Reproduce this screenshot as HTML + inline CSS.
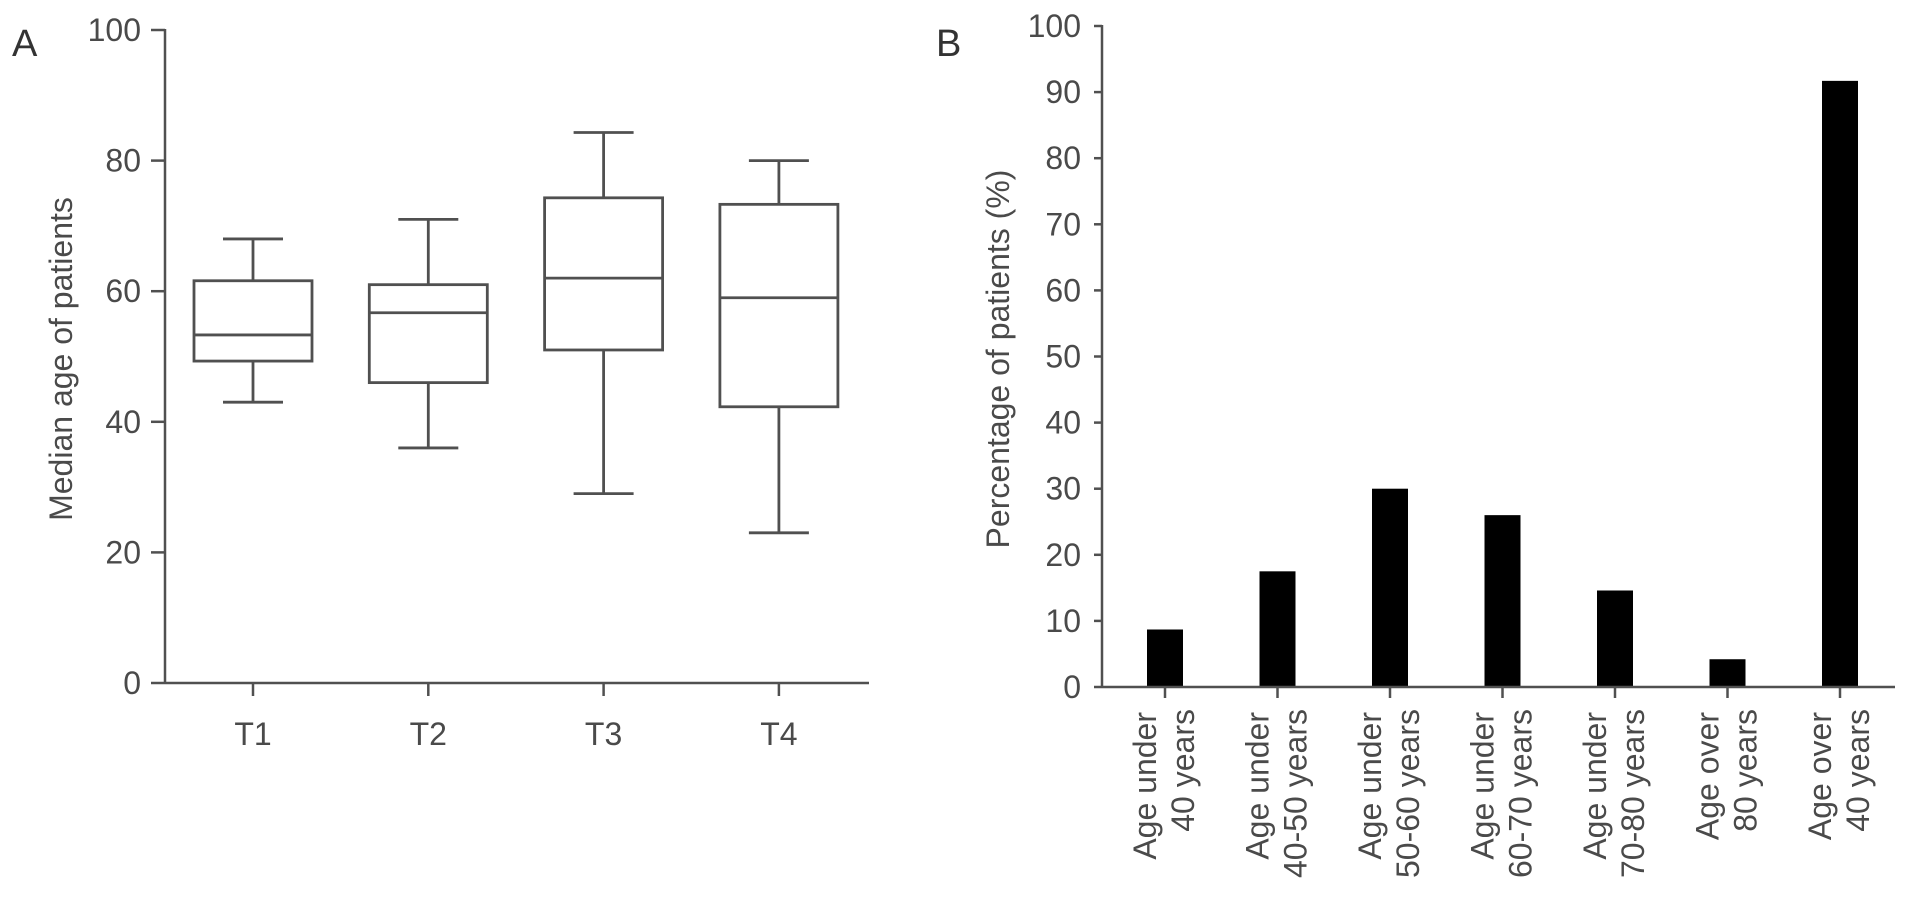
<!DOCTYPE html>
<html><head><meta charset="utf-8"><style>
html,body{margin:0;padding:0;background:#fff;}
svg{display:block;font-family:"Liberation Sans",sans-serif;}
</style></head><body>
<svg id="chart" width="1913" height="909" xmlns="http://www.w3.org/2000/svg"></svg>
<script>
// Panel A data (box plots)
const boxCats = ["T1","T2","T3","T4"];
const boxMin = [43,36,29,23];
const boxQ1 = [49.3,46,51,42.3];
const boxMed = [53.3,56.7,62,59];
const boxQ3 = [61.6,61,74.3,73.3];
const boxMax = [68,71,84.3,80];
const aTicks = [0,20,40,60,80,100];
// Panel B data (bars)
const barLine1 = ["Age under","Age under","Age under","Age under","Age under","Age over","Age over"];
const barLine2 = ["40 years","40-50 years","50-60 years","60-70 years","70-80 years","80 years","40 years"];
const barVals = [8.7,17.5,30,26,14.6,4.2,91.7];
const bTicks = [0,10,20,30,40,50,60,70,80,90,100];

const svg=document.getElementById('chart');
const NS="http://www.w3.org/2000/svg";
function mk(tag,attrs,parent){const e=document.createElementNS(NS,tag);for(const k in attrs)e.setAttribute(k,attrs[k]);(parent||svg).appendChild(e);return e;}
const AX="#505050", TX="#4a4a4a", FS=32;

// ---------- Panel A ----------
const aX0=165,aX1=869,aY0=683,aY1=30;
const ay=v=>aY0-(v/100)*(aY0-aY1);
const ax=i=>253+i*175.3;
let t=mk('text',{x:12,y:56,'font-size':38,fill:'#333'});t.textContent='A';


let l=mk('line',{x1:aX0,y1:aY1-1,x2:aX0,y2:aY0,stroke:AX,'stroke-width':2.5});


l=mk('line',{x1:aX0,y1:aY0,x2:aX1,y2:aY0,stroke:AX,'stroke-width':2.5});


aTicks.forEach(v=>{
  mk('line',{x1:151,y1:ay(v),x2:aX0,y2:ay(v),stroke:AX,'stroke-width':2.5});
  const e=mk('text',{x:141,y:ay(v)+11,'font-size':FS,fill:TX,'text-anchor':'end'});e.textContent=v;
  
  
});
t=mk('text',{x:0,y:0,'font-size':FS,fill:TX,'text-anchor':'middle',transform:'translate(72,359) rotate(-90)'});t.textContent='Median age of patients';


boxCats.forEach((c,i)=>{
  const cx=ax(i),hw=59,cw=30;
  const g=mk('g',{stroke:AX,'stroke-width':2.8,fill:'none'});
  
  
  mk('line',{x1:cx,y1:ay(boxMax[i]),x2:cx,y2:ay(boxQ3[i])},g);
  mk('line',{x1:cx,y1:ay(boxQ1[i]),x2:cx,y2:ay(boxMin[i])},g);
  mk('line',{x1:cx-cw,y1:ay(boxMax[i]),x2:cx+cw,y2:ay(boxMax[i])},g);
  mk('line',{x1:cx-cw,y1:ay(boxMin[i]),x2:cx+cw,y2:ay(boxMin[i])},g);
  mk('rect',{x:cx-hw,y:ay(boxQ3[i]),width:2*hw,height:ay(boxQ1[i])-ay(boxQ3[i])},g);
  mk('line',{x1:cx-hw,y1:ay(boxMed[i]),x2:cx+hw,y2:ay(boxMed[i])},g);
  mk('line',{x1:cx,y1:aY0,x2:cx,y2:aY0+13,stroke:AX,'stroke-width':2.5});
  const e=mk('text',{x:cx,y:745,'font-size':FS,fill:TX,'text-anchor':'middle'});e.textContent=c;
  
  
});

// ---------- Panel B ----------
const bX0=1102,bX1=1895,bY0=687,bY1=26;
const by=v=>bY0-(v/100)*(bY0-bY1);
const bx=i=>1165+i*112.5;
t=mk('text',{x:936,y:56,'font-size':38,fill:'#333'});t.textContent='B';


barVals.forEach((v,i)=>{
  const r=mk('rect',{x:bx(i)-18,y:by(v),width:36,height:bY0-by(v),fill:'#000'});
  
  
});
l=mk('line',{x1:bX0,y1:bY1-1,x2:bX0,y2:bY0,stroke:AX,'stroke-width':2.5});


l=mk('line',{x1:bX0,y1:bY0,x2:bX1,y2:bY0,stroke:AX,'stroke-width':2.5});


bTicks.forEach(v=>{
  mk('line',{x1:1094,y1:by(v),x2:bX0,y2:by(v),stroke:AX,'stroke-width':2.5});
  const e=mk('text',{x:1081,y:by(v)+11,'font-size':FS,fill:TX,'text-anchor':'end'});e.textContent=v;
  
  
});
t=mk('text',{x:0,y:0,'font-size':FS,fill:TX,'text-anchor':'middle',transform:'translate(1009,359) rotate(-90)'});t.textContent='Percentage of patients (%)';


barLine1.forEach((s,i)=>{
  const cx=bx(i);
  mk('line',{x1:cx,y1:bY0,x2:cx,y2:bY0+11,stroke:AX,'stroke-width':2.5});
  let e=mk('text',{x:0,y:0,'font-size':FS,fill:TX,'text-anchor':'end',transform:`translate(${cx-9},712) rotate(-90)`});e.textContent=s;
  
  
  e=mk('text',{x:0,y:0,'font-size':FS,fill:TX,'text-anchor':'end',transform:`translate(${cx+29},709) rotate(-90)`});e.textContent=barLine2[i];
  
  
});
</script>
</body></html>
